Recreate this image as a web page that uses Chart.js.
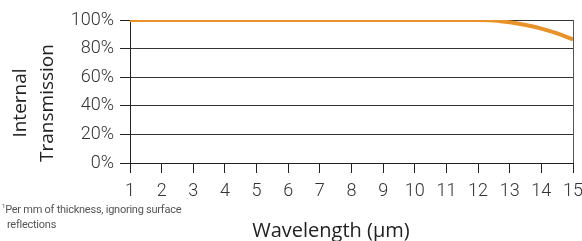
<!DOCTYPE html>
<html>
<head>
    <title>Internal Transmission</title>
    <script src="https://cdn.jsdelivr.net/npm/chart.js"></script>
    <style>
        html, body { margin: 0; padding: 0; background: #fff; }
        #chartContainer { position: relative; width: 582px; height: 241px; }
        #footnote {
            position: absolute; left: 2px; top: 198px;
            font-family: Roboto, sans-serif; font-weight: 400;
            font-size: 11px; line-height: 15px; color: #555; letter-spacing: -0.25px;
        }
        #footnote sup { font-size: 6px; vertical-align: 5px; }
    </style>
</head>
<body>
    <div id="chartContainer">
        <canvas id="myChart" width="582" height="241"></canvas>
        <div id="footnote"><sup>1</sup>Per mm of thickness, ignoring surface<br>&nbsp;&nbsp;reflections</div>
    </div>
    <script>
        // datos
        const wavelength = [1, 2, 3, 4, 5, 6, 7, 8, 9, 10, 11, 12, 12.5, 13, 13.5, 14, 14.5, 15];
        const transmission = [100, 100, 100, 100, 100, 100, 100, 100, 100, 100, 100, 100, 99.7, 98.4, 96.5, 94, 90.6, 86.4];
        const yTitle = ['Internal', 'Transmission'];
        const xTitle = 'Wavelength (\u00b5m)';

        const tickFont = { family: 'Roboto, sans-serif', size: 18, weight: 300 };

        // titulos de ejes dibujados a mano para ubicarlos igual que el original
        const axisTitles = {
            id: 'axisTitles',
            afterDraw(chart) {
                const c = chart.ctx;
                c.save();
                c.fillStyle = '#222';
                c.textAlign = 'center';
                c.textBaseline = 'alphabetic';
                c.font = "20px 'Open Sans', sans-serif";
                c.fillText(xTitle, 331, 237);
                c.font = "19px 'Open Sans', sans-serif";
                c.translate(0, 103);
                c.rotate(-Math.PI / 2);
                c.fillText(yTitle[0], 0, 26);
                c.fillText(yTitle[1], 0, 53);
                c.restore();
            }
        };

        const ctx = document.getElementById('myChart').getContext('2d');
        const myChart = new Chart(ctx, {
            type: 'line',
            data: {
                datasets: [{
                    data: wavelength.map((w, i) => ({ x: w, y: transmission[i] })),
                    borderColor: '#e8922a',
                    borderWidth: 4,
                    pointRadius: 0,
                    tension: 0.4,
                    cubicInterpolationMode: 'monotone',
                    fill: false
                }]
            },
            options: {
                responsive: false,
                animation: false,
                layout: { padding: { left: 0, right: 9, top: 20, bottom: 0 } },
                plugins: {
                    legend: { display: false },
                    tooltip: { enabled: false }
                },
                scales: {
                    x: {
                        type: 'linear',
                        min: 1,
                        max: 15,
                        afterFit: s => { s.height = 78; s.paddingLeft = 0; s.paddingRight = 0; },
                        ticks: { stepSize: 1, font: tickFont, color: '#333', padding: 8, maxRotation: 0 },
                        grid: {
                            color: c => c.tick && c.tick.value === 15 ? '#555' : 'rgba(0,0,0,0)',
                            tickColor: '#222',
                            tickLength: 10,
                            lineWidth: 1
                        },
                        border: { color: '#222', width: 1 }
                    },
                    y: {
                        min: 0,
                        max: 100,
                        afterFit: s => { s.width = 130; s.paddingTop = 0; s.paddingBottom = 0; },
                        ticks: { stepSize: 20, font: tickFont, color: '#333', padding: 6, callback: v => v + '%' },
                        grid: { color: '#333', tickColor: '#222', tickLength: 10, lineWidth: 1 },
                        border: { color: '#222', width: 1 }
                    }
                }
            },
            plugins: [axisTitles]
        });
    </script>
</body>
</html>
